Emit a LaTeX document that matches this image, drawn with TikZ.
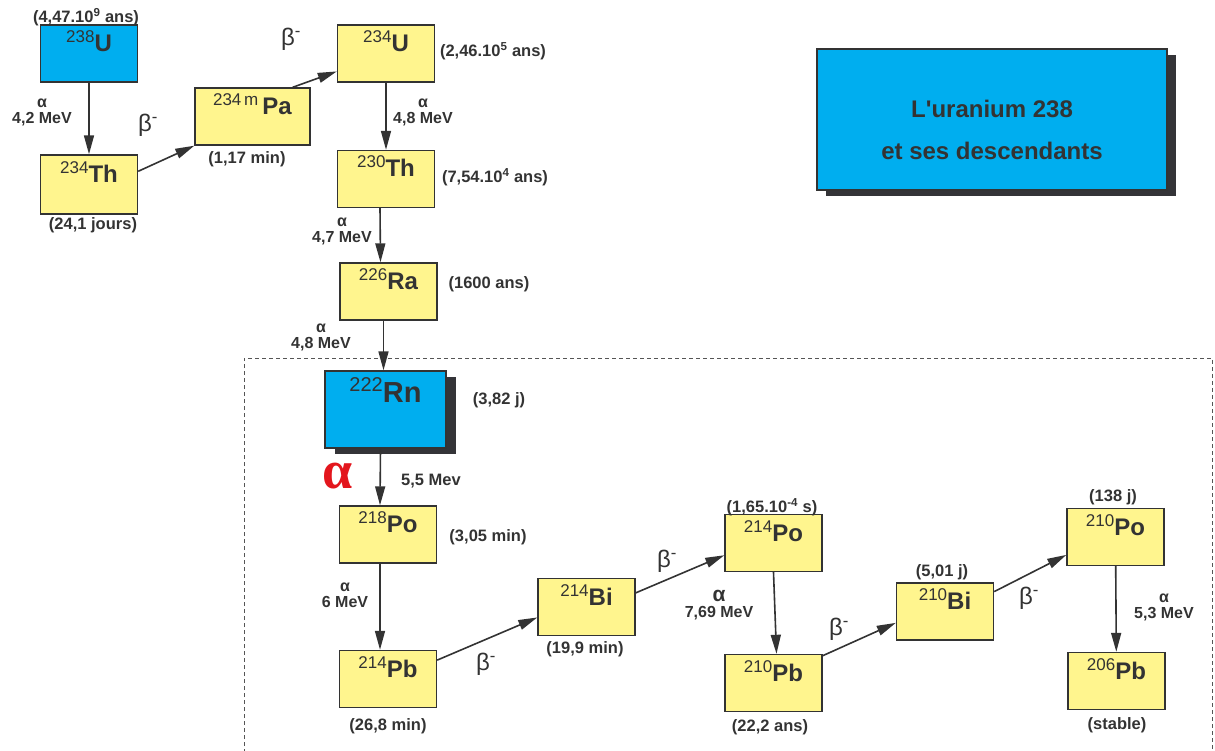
\documentclass[tikz,border=0pt]{standalone}
\usepackage{fontspec}
\setmainfont{Liberation Sans}
\newfontfamily\greekserif{Liberation Serif}
\usepackage{xcolor}
\usetikzlibrary{arrows.meta,shadows}
\definecolor{UranBlue}{HTML}{00AEEF}
\definecolor{ChainYellow}{HTML}{FFF58E}
\definecolor{InkGray}{HTML}{333333}
\definecolor{ShadowGray}{HTML}{343438}
\definecolor{AlphaRed}{HTML}{E3161D}
\definecolor{FrameGray}{HTML}{555555}
\newcommand{\nucl}[2]{\raisebox{9pt}{\fontsize{17}{17}\selectfont\mdseries #1}\textbf{#2}}

\begin{document}
\begin{tikzpicture}[
      x=1pt,y=-1pt,
      >={Triangle[length=19pt,width=10pt]},
      text=InkGray,
      nucbox/.style={draw=InkGray,fill=ChainYellow,line width=1.4pt,minimum width=97pt,minimum height=57pt,inner sep=0pt,text height=17pt,text depth=21pt,font=\fontsize{24}{24}\selectfont\bfseries},
      bluebox/.style={nucbox,fill=UranBlue},
      hl/.style={inner sep=0pt,font=\fontsize{16.5}{17}\selectfont\bfseries},
      en/.style={inner sep=0pt,align=center,font=\fontsize{16}{16}\selectfont\bfseries},
      beta/.style={inner sep=0pt,font=\fontsize{24}{24}\selectfont},
      arr/.style={->,line width=1.6pt,draw=InkGray}
    ]
      \useasboundingbox (0,0) rectangle (1215,751);

      \draw[FrameGray,line width=0.8pt,dash pattern=on 4pt off 3pt] (244,760) -- (244,358) -- (1212,358) -- (1212,760);

      \node[draw=InkGray,fill=UranBlue,line width=1.4pt,minimum width=350pt,minimum height=141pt,
            general shadow={fill=ShadowGray,shadow xshift=9pt,shadow yshift=-6pt}] (title) at (992,119.5) {};
      \node[align=center,inner sep=0pt,font=\fontsize{24}{42}\selectfont\bfseries] (titletxt) at (992,130) {L\textquotesingle uranium 238\\et ses descendants};

      \node[bluebox] (u238) at (89,53.5) {\nucl{238}{U}};
      \node[nucbox,minimum height=59pt] (th234) at (89,184.5) {\nucl{234}{Th}};
      \node[nucbox,minimum width=115pt] (pa234) at (252.5,116.5) {\nucl{234\,m\hspace{4pt}}{Pa}};
      \node[nucbox] (u234) at (386,53.5) {\nucl{234}{U}};
      \node[nucbox] (th230) at (386,179) {\nucl{230}{Th}};
      \node[nucbox] (ra226) at (388.5,291.5) {\nucl{226}{Ra}};
      \node[bluebox,minimum width=121pt,minimum height=77pt,text height=21pt,text depth=36pt,font=\fontsize{29}{29}\selectfont\bfseries,
            general shadow={fill=ShadowGray,shadow xshift=10pt,shadow yshift=-6pt}] (rn222) at (385.5,409.5)
            {\raisebox{11pt}{\fontsize{20}{20}\selectfont\mdseries 222}\textbf{Rn}};
      \node[nucbox] (po218) at (388,534.5) {\nucl{218}{Po}};
      \node[nucbox] (pb214) at (388,679) {\nucl{214}{Pb}};
      \node[nucbox] (bi214) at (586.5,607) {\nucl{214}{Bi}};
      \node[nucbox] (po214) at (773.5,543) {\nucl{214}{Po}};
      \node[nucbox] (pb210) at (773.5,683) {\nucl{210}{Pb}};
      \node[nucbox] (bi210) at (945,611.5) {\nucl{210}{Bi}};
      \node[nucbox] (po210) at (1115.5,537) {\nucl{210}{Po}};
      \node[nucbox] (pb206) at (1116.5,681) {\nucl{206}{Pb}};

      \node[hl] (hlu238) at (86,17) {(4,47.10\textsuperscript{9} ans)};
      \node[hl] (hlth234) at (93,225) {(24,1 jours)};
      \node[hl] (hlpa234) at (247,159) {(1,17 min)};
      \node[hl] (hlu234) at (493,51) {(2,46.10\textsuperscript{5} ans)};
      \node[hl] (hlth230) at (495,177) {(7,54.10\textsuperscript{4} ans)};
      \node[hl] (hlra226) at (489,284) {(1600 ans)};
      \node[hl] (hlrn222) at (499,400) {(3,82 j)};
      \node[hl] (hlpo218) at (488,537) {(3,05 min)};
      \node[hl] (hlpb214) at (388,726) {(26,8 min)};
      \node[hl] (hlbi214) at (585,649) {(19,9 min)};
      \node[hl] (hlpo214) at (772,507) {(1,65.10\textsuperscript{-4} s)};
      \node[hl] (hlpb210) at (770,727) {(22,2 ans)};
      \node[hl] (hlbi210) at (942,572) {(5,01 j)};
      \node[hl] (hlpo210) at (1113,497) {(138 j)};
      \node[hl] (hlpb206) at (1117,725) {(stable)};

      \node[en] (enu238) at (42,112) {α\\4,2 MeV};
      \node[en] (enu234) at (423,112) {α\\4,8 MeV};
      \node[en] (enth230) at (342,231) {α\\4,7 MeV};
      \node[en] (enra226) at (321,337) {α\\4,8 MeV};
      \node[hl] (enrn222) at (431,481) {5,5 Mev};
      \node[inner sep=0pt,text=AlphaRed,font=\fontsize{54}{54}\selectfont\greekserif\bfseries] (alrn222) at (338,476) {α};
      \node[en] (enpo218) at (345,595) {α\\6 MeV};
      \node[en] (enpo214) at (719,605) {{\fontsize{21}{21}\selectfont α}\\7,69 MeV};
      \node[en] (enpo210) at (1164,607) {α\\5,3 MeV};

      \node[beta] (beth234) at (148,125) {β\textsuperscript{-}};
      \node[beta] (bepa234) at (291,39) {β\textsuperscript{-}};
      \node[beta] (bepb214) at (486,664) {β\textsuperscript{-}};
      \node[beta] (bebi214) at (667,561) {β\textsuperscript{-}};
      \node[beta] (bepb210) at (839,629) {β\textsuperscript{-}};
      \node[beta] (bebi210) at (1029,598) {β\textsuperscript{-}};

      \draw[arr] (u238) -- (th234);
      \draw[arr] (th234.15) -- (pa234.south west);
      \draw[arr] (pa234.36) -- (u234.200);
      \draw[arr] (u234) -- (th230);
      \draw[arr] ([xshift=-6pt]th230.south) -- ([xshift=-8pt]ra226.north);
      \draw[arr] ([xshift=-5pt]ra226.south) -- ([xshift=-2pt]rn222.north);
      \draw[arr] ([xshift=-5pt]rn222.south) -- ([xshift=-8pt]po218.north);
      \draw[arr] ([xshift=-8pt]po218.south) -- ([xshift=-8pt]pb214.north);
      \draw[arr] (pb214.21) -- (bi214.192);
      \draw[arr] (bi214.16) -- (po214.194);
      \draw[arr] (po214.south) -- ([xshift=3pt]pb210.north);
      \draw[arr] (pb210.29) -- (bi210.193);
      \draw[arr] (bi210.22) -- (po210.200);
      \draw[arr] (po210) -- (pb206);
    \end{tikzpicture}
\end{document}
